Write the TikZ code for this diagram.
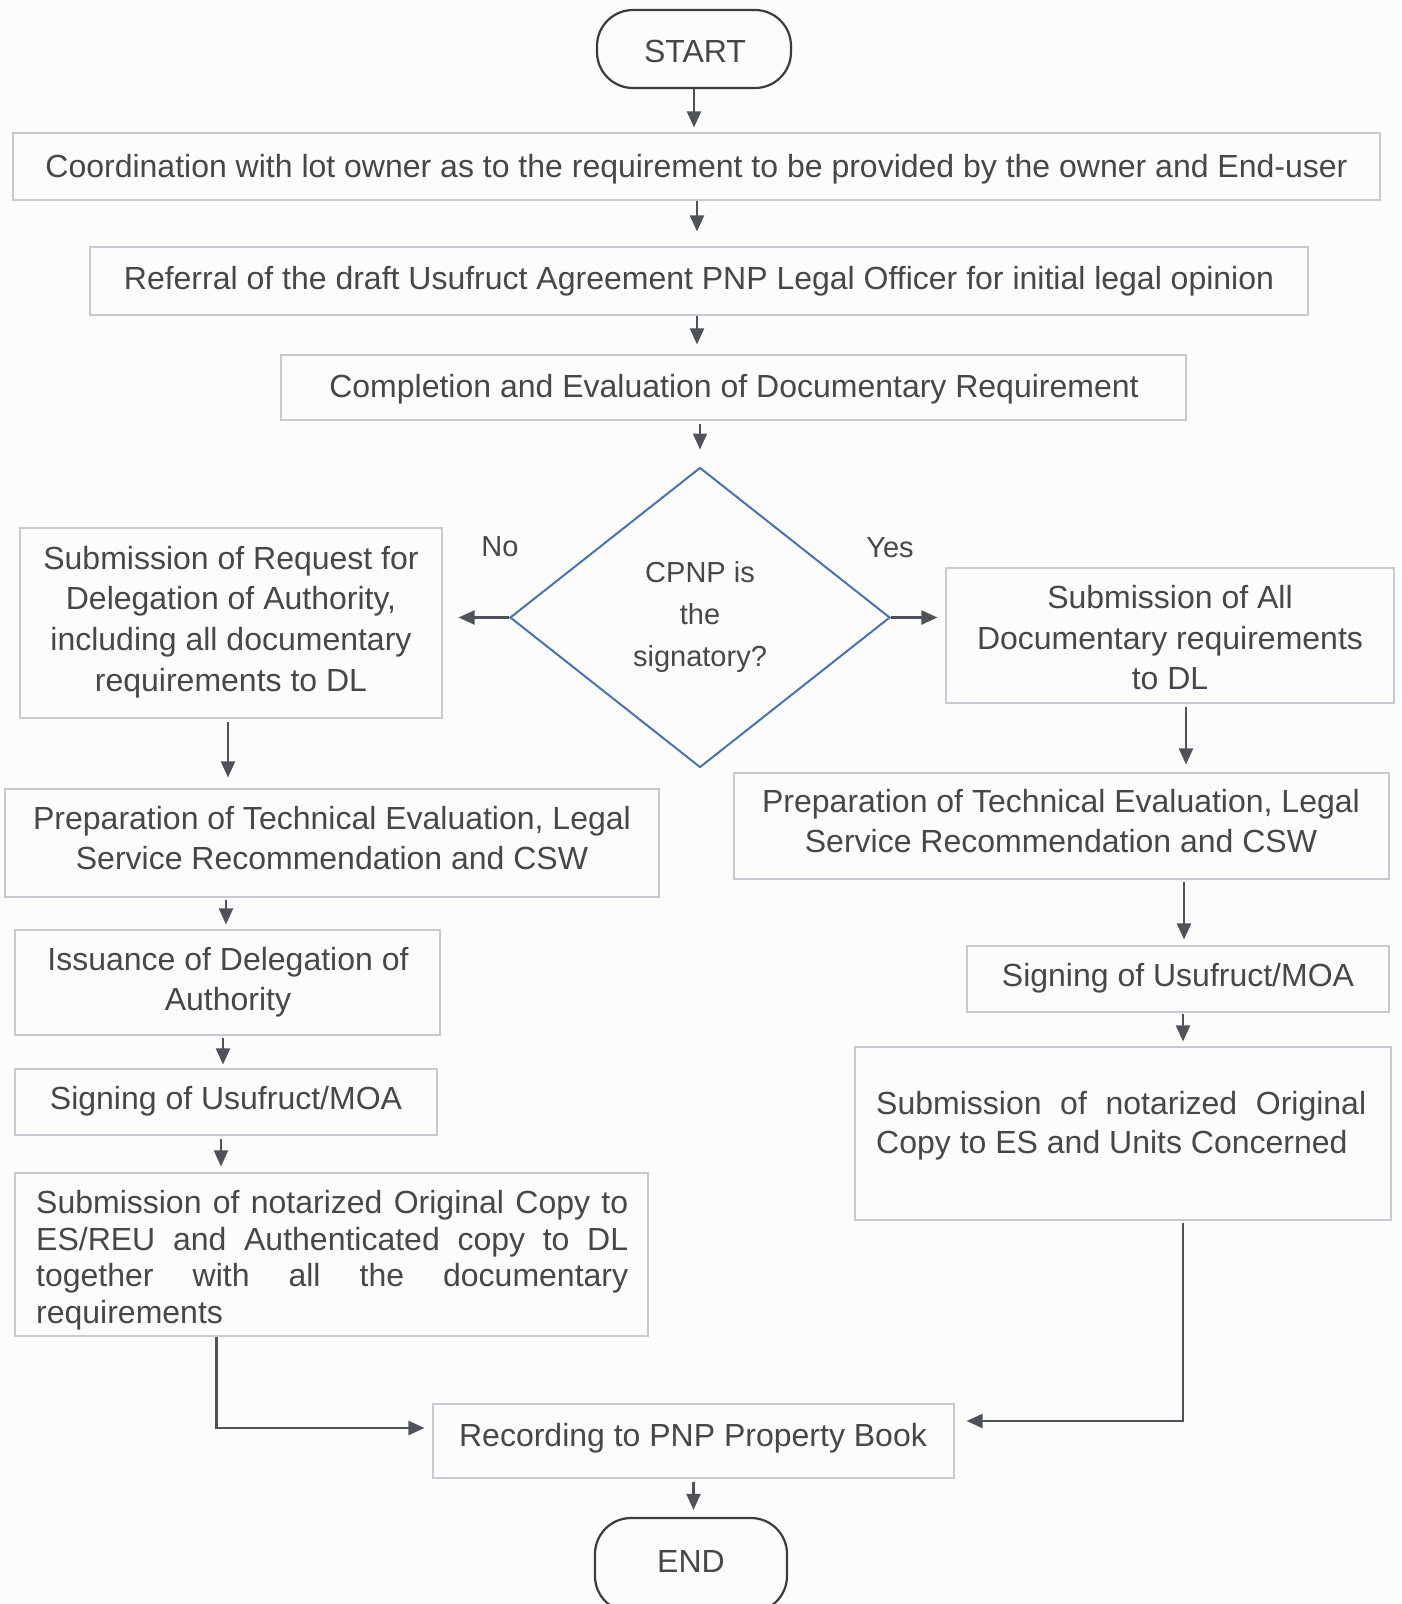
\documentclass[tikz,border=0pt]{standalone}
\usepackage{fontspec}
\setmainfont{Liberation Sans}
\usetikzlibrary{arrows.meta,shapes.geometric}
\definecolor{txtc}{HTML}{474747}
\definecolor{boxc}{HTML}{C6CAD1}
\definecolor{termc}{HTML}{3C3C3C}
\definecolor{diac}{HTML}{4A72B0}
\definecolor{arrc}{HTML}{505259}
\definecolor{bgc}{HTML}{FCFCFC}
\newcommand{\toph}{\rule{0pt}{24pt}}
\begin{document}
\begin{tikzpicture}[x=1pt,y=-1pt,
  box/.style={draw=boxc, line width=1.1pt, inner sep=0pt, rectangle},
  term/.style={draw=termc, line width=2.2pt, rounded corners=36pt, inner sep=0pt, rectangle},
  txt/.style={text=txtc, inner sep=0pt, align=center, anchor=north, font=\fontsize{32}{38}\selectfont},
  one/.style={text=txtc, inner sep=0pt, anchor=base, font=\fontsize{32}{38}\selectfont},
  small/.style={font=\fontsize{29}{35}\selectfont},
  arr/.style={draw=arrc, line width=2.1pt, -{Triangle[length=16pt,width=14pt]}},
]
\useasboundingbox (0,0) rectangle (1401,1604);
\clip (0,0) rectangle (1401,1604);
\fill[bgc] (0,0) rectangle (1401,1604);

% terminals
\node[term, minimum width=194pt, minimum height=78pt] (start) at (694,49) {};
\node[one] (tstart) at (695,62) {START};
\node[term, minimum width=192pt, minimum height=94pt] (end) at (691,1565) {};
\node[one] (tend) at (691,1572) {END};

% top column
\node[box, minimum width=1367pt, minimum height=67pt] (b1) at (696.5,166.5) {};
\node[one] (t1) at (696.5,177) {Coordination with lot owner as to the requirement to be provided by the owner and End-user};
\node[box, minimum width=1218pt, minimum height=68pt] (b2) at (699,281) {};
\node[one] (t2) at (699,289) {Referral of the draft Usufruct Agreement PNP Legal Officer for initial legal opinion};
\node[box, minimum width=905pt, minimum height=65pt] (b3) at (733.5,387.5) {};
\node[one] (t3) at (734,397) {Completion and Evaluation of Documentary Requirement};

% decision
\node[draw=diac, line width=2pt, diamond, minimum width=380pt, minimum height=300pt, inner sep=0pt] (dia) at (700,617.5) {};
\node[txt, font=\fontsize{29}{42}\selectfont] (tdia) at (700,558) {\toph CPNP is\\the\\signatory?};
\node[one, small] (no) at (500,556) {No};
\node[one, small] (yes) at (890,557) {Yes};

% left branch
\node[box, minimum width=422pt, minimum height=190pt] (L1) at (231,623) {};
\node[txt, font=\fontsize{32}{40.6}\selectfont] (tL1) at (231,545) {\toph Submission of Request for\\Delegation of Authority,\\including all documentary\\requirements to DL};
\node[box, minimum width=654pt, minimum height=108pt] (L2) at (332,843) {};
\node[txt, font=\fontsize{32}{40.5}\selectfont] (tL2) at (332,805) {\toph Preparation of Technical Evaluation, Legal\\Service Recommendation and CSW};
\node[box, minimum width=425pt, minimum height=105pt] (L3) at (227.5,982.5) {};
\node[txt, font=\fontsize{32}{40}\selectfont] (tL3) at (228,946) {\toph Issuance of Delegation of\\Authority};
\node[box, minimum width=422pt, minimum height=66pt] (L4) at (226,1102) {};
\node[one] (tL4) at (226,1109) {Signing of Usufruct/MOA};
\node[box, minimum width=633pt, minimum height=163pt] (L5) at (331.5,1254.5) {};
\node[txt, align=left, anchor=north west, font=\fontsize{32}{36.8}\selectfont] (tL5) at (36,1189)
  {\toph\makebox[592pt][s]{Submission of notarized Original Copy to}\\\makebox[592pt][s]{ES/REU and Authenticated copy to DL}\\\makebox[592pt][s]{together with all the documentary}\\requirements};

% right branch
\node[box, minimum width=448pt, minimum height=135pt] (R1) at (1170,635.5) {};
\node[txt, font=\fontsize{32}{40.8}\selectfont] (tR1) at (1170,584) {\toph Submission of All\\Documentary requirements\\to DL};
\node[box, minimum width=655pt, minimum height=106pt] (R2) at (1061.5,826) {};
\node[txt, font=\fontsize{32}{40}\selectfont] (tR2) at (1061,788) {\toph Preparation of Technical Evaluation, Legal\\Service Recommendation and CSW};
\node[box, minimum width=422pt, minimum height=66pt] (R3) at (1178,979) {};
\node[one] (tR3) at (1178,986) {Signing of Usufruct/MOA};
\node[box, minimum width=536pt, minimum height=173pt] (R4) at (1123,1133.5) {};
\node[txt, align=left, anchor=north west, font=\fontsize{32}{39}\selectfont] (tR4) at (876,1090)
  {\toph\makebox[490pt][s]{Submission of notarized Original}\\Copy to ES and Units Concerned};

% recording
\node[box, minimum width=521pt, minimum height=74pt] (rec) at (693.5,1441) {};
\node[one] (trec) at (693,1446) {Recording to PNP Property Book};

% connectors
\draw[arr, shorten >=5pt] (start.south) -- (start.south |- b1.north);
\draw[arr, shorten >=15pt] ([xshift=0.5pt]b1.south) -- ([xshift=0.5pt]b1.south |- b2.north);
\draw[arr, shorten >=10pt] ([xshift=-2pt]b2.south) -- ([xshift=-2pt]b2.south |- b3.north);
\draw[arr, shorten <=3pt, shorten >=17pt] (b3.south -| dia.north) -- (dia.north);
\draw[arr, shorten >=16pt] (dia.west) -- (dia.west -| L1.east);
\draw[arr, shorten >=8pt] (dia.east) -- (dia.east -| R1.west);

\draw[arr, shorten <=3pt, shorten >=11pt] ([xshift=-3pt]L1.south) -- ([xshift=-3pt]L1.south |- L2.north);
\draw[arr, shorten <=2pt, shorten >=5pt] ([xshift=-106pt]L2.south) -- ([xshift=-106pt]L2.south |- L3.north);
\draw[arr, shorten <=2pt, shorten >=4pt] ([xshift=-4.5pt]L3.south) -- ([xshift=-4.5pt]L3.south |- L4.north);
\draw[arr, shorten <=3pt, shorten >=6pt] ([xshift=-5pt]L4.south) -- ([xshift=-5pt]L4.south |- L5.north);
\draw[arr, shorten >=8pt] ([xshift=202pt]L5.south west) |- ([yshift=13pt]rec.west);

\draw[arr, shorten <=3pt, shorten >=8pt] ([xshift=16pt]R1.south) -- ([xshift=16pt]R1.south |- R2.north);
\draw[arr, shorten <=2pt, shorten >=6pt] ([xshift=6pt]R3.north |- R2.south) -- ([xshift=6pt]R3.north);
\draw[arr, shorten <=1pt, shorten >=5pt] ([xshift=5pt]R3.south) -- ([xshift=5pt]R3.south |- R4.north);
\draw[arr, shorten <=2pt, shorten >=12pt] ([xshift=60pt]R4.south) |- ([yshift=20pt]rec.east);

\draw[arr, shorten <=3pt, shorten >=7pt] (rec.south) -- (rec.south |- end.north);
\end{tikzpicture}
\end{document}
